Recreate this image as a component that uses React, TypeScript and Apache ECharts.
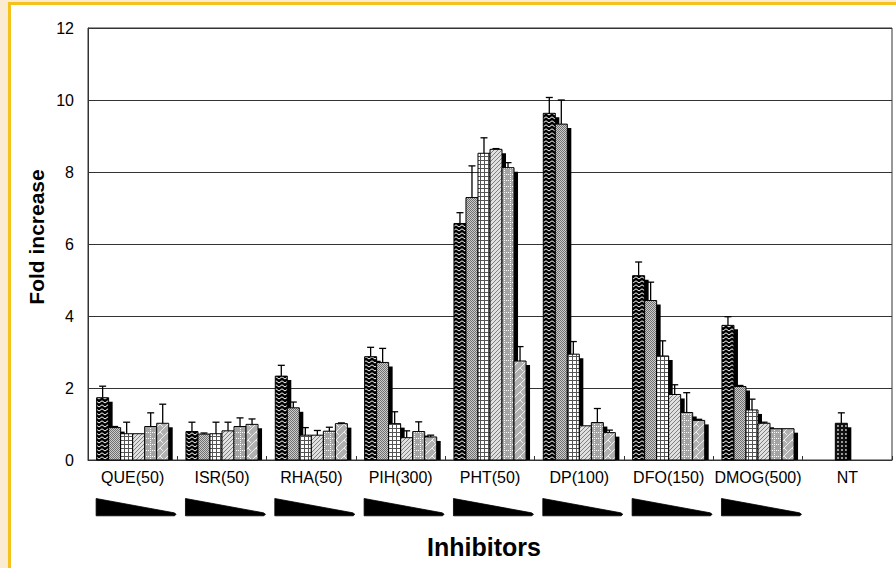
import React, { useEffect, useRef } from 'react';
import * as echarts from 'echarts';

const categories = ['QUE(50)', 'ISR(50)', 'RHA(50)', 'PIH(300)', 'PHT(50)', 'DP(100)', 'DFO(150)', 'DMOG(500)', 'NT'];
// six decreasing doses for the first eight inhibitors
const dose1 = [1.73, 0.79, 2.33, 2.87, 6.57, 9.63, 5.12, 3.74];
const dose1Err = [0.32, 0.26, 0.3, 0.26, 0.3, 0.44, 0.38, 0.24];
const dose2 = [0.9, 0.72, 1.45, 2.71, 7.29, 9.33, 4.43, 2.04];
const dose2Err = [0.03, 0.03, 0.16, 0.39, 0.88, 0.67, 0.51, 0.03];
const dose3 = [0.73, 0.73, 0.69, 1.01, 8.52, 2.94, 2.89, 1.39];
const dose3Err = [0.32, 0.32, 0.21, 0.33, 0.43, 0.35, 0.42, 0.3];
const dose4 = [0.73, 0.81, 0.69, 0.62, 8.63, 0.95, 1.82, 1.02];
const dose4Err = [0, 0.24, 0.13, 0.19, 0.02, 0, 0.27, 0.03];
const dose5 = [0.93, 0.93, 0.8, 0.79, 8.12, 1.04, 1.32, 0.87];
const dose5Err = [0.38, 0.24, 0.11, 0.27, 0.14, 0.39, 0.55, 0];
const dose6 = [1.02, 0.99, 1.01, 0.64, 2.75, 0.76, 1.1, 0.87];
const dose6Err = [0.53, 0.15, 0.02, 0.05, 0.4, 0.07, 0.03, 0];
const ntValue = [1.02];
const ntErr = [0.29];
const yTicks = [0, 2, 4, 6, 8, 10, 12];

const FONT = '"Liberation Sans", Arial, Helvetica, sans-serif';

function makePattern(kind: number) {
  const c = document.createElement('canvas');
  let w = 6, h = 6;
  if (kind === 0) { w = 6; h = 4; }
  if (kind === 1) { w = 2; h = 2; }
  if (kind === 2) { w = 4; h = 4; }
  if (kind === 3) { w = 4; h = 4; }
  if (kind === 4) { w = 6; h = 6; }
  if (kind === 5) { w = 8; h = 8; }
  if (kind === 6) { w = 4; h = 4; }
  c.width = w; c.height = h;
  const g = c.getContext('2d')!;
  if (kind === 0) {
    g.fillStyle = '#000'; g.fillRect(0, 0, w, h);
    g.strokeStyle = '#fff'; g.lineWidth = 1;
    g.beginPath(); g.moveTo(0, 0.8); g.lineTo(3, 3); g.lineTo(6, 0.8); g.stroke();
  } else if (kind === 1) {
    g.fillStyle = '#cccccc'; g.fillRect(0, 0, w, h);
    g.fillStyle = '#707070'; g.fillRect(0, 0, 1, 1); g.fillRect(1, 1, 1, 1);
  } else if (kind === 2) {
    g.fillStyle = '#fff'; g.fillRect(0, 0, w, h);
    g.fillStyle = '#555'; g.fillRect(0, 0, w, 1); g.fillRect(0, 0, 1, h);
  } else if (kind === 3) {
    g.fillStyle = '#e0e0e0'; g.fillRect(0, 0, w, h);
    g.fillStyle = '#808080';
    for (let i = 0; i < 4; i++) g.fillRect(3 - i, i, 1, 1);
  } else if (kind === 4) {
    g.fillStyle = '#a4a4a4'; g.fillRect(0, 0, w, h);
    g.fillStyle = '#fff';
    for (let i = 0; i < 6; i += 2) { g.fillRect(i, 0, 1, 1); g.fillRect(0, i, 1, 1); }
  } else if (kind === 5) {
    g.fillStyle = '#b0b0b0'; g.fillRect(0, 0, w, h);
    g.strokeStyle = '#f2f2f2'; g.lineWidth = 1;
    g.beginPath(); g.moveTo(0, 8); g.lineTo(8, 0); g.stroke();
    g.beginPath(); g.moveTo(0, 0); g.lineTo(3, 3); g.stroke();
  } else if (kind === 6) {
    g.fillStyle = '#111'; g.fillRect(0, 0, w, h);
    g.fillStyle = '#9a9a9a'; g.fillRect(1, 1, 2, 2);
  }
  return { image: c.toDataURL(), repeat: 'repeat', imageWidth: w, imageHeight: h };
}

export default function App() {
  const ref = useRef<HTMLDivElement>(null);
  useEffect(() => {
    if (!ref.current) return;
    const chart = echarts.init(ref.current, undefined, { renderer: 'svg' });
    const patterns = [0, 1, 2, 3, 4, 5, 6].map(makePattern);
    const doses = [dose1, dose2, dose3, dose4, dose5, dose6];
    const errs = [dose1Err, dose2Err, dose3Err, dose4Err, dose5Err, dose6Err];
    const barData: number[][] = [];
    for (let c = 0; c < 8; c++) {
      for (let s = 0; s < 6; s++) {
        barData.push([c, doses[s][c], errs[s][c], s, s]);
      }
    }
    barData.push([8, ntValue[0], ntErr[0], 2, 6]);
    const wedgeData = categories.slice(0, 8).map((_, i) => [i, 0]);

    const option: any = {
      animation: false,
      grid: { left: 88, right: 4, top: 28, bottom: 108, show: true, borderColor: '#333', borderWidth: 1, backgroundColor: 'transparent' },
      xAxis: {
        type: 'category',
        data: categories,
        axisLine: { lineStyle: { color: '#333', width: 1 } },
        axisTick: { show: true, inside: true, length: 4, lineStyle: { color: '#333' } },
        axisLabel: { fontSize: 16, color: '#000', fontFamily: FONT, margin: 9, interval: 0 },
        splitLine: { show: false },
      },
      yAxis: {
        type: 'value',
        min: yTicks[0],
        max: yTicks[yTicks.length - 1],
        interval: 2,
        axisLine: { show: true, lineStyle: { color: '#333', width: 1 } },
        axisTick: { show: false },
        axisLabel: { fontSize: 16, color: '#000', fontFamily: FONT, margin: 14 },
        splitLine: { show: true, lineStyle: { color: '#333', width: 1 } },
      },
      graphic: [
        {
          type: 'text', x: 36, y: 237, rotation: Math.PI / 2,
          style: { text: 'Fold increase', font: `bold 21px ${FONT}`, fill: '#000', textAlign: 'center', textVerticalAlign: 'middle' },
        },
        {
          type: 'text', x: 484, y: 547,
          style: { text: 'Inhibitors', font: `bold 25px ${FONT}`, fill: '#000', textAlign: 'center', textVerticalAlign: 'middle' },
        },
      ],
      series: [
        {
          type: 'custom',
          clip: false,
          data: barData,
          encode: { x: 0, y: 1 },
          renderItem: (params: any, api: any) => {
            const cat = api.value(0);
            const val = api.value(1);
            const err = api.value(2);
            const slot = api.value(3);
            const pat = api.value(4);
            const band = api.size([1, 0])[0];
            const bw = band * 0.1345;
            const base = api.coord([cat, 0]);
            const x0 = base[0] - 3 * bw + slot * bw;
            const yBase = base[1];
            const yTop = api.coord([cat, val])[1];
            const children: any[] = [
              { type: 'rect', shape: { x: x0 + 4, y: yTop + 4, width: bw, height: Math.max(0, yBase - yTop - 4) }, style: { fill: '#000' } },
              { type: 'rect', shape: { x: x0, y: yTop, width: bw, height: yBase - yTop }, style: { fill: patterns[pat], stroke: '#000', lineWidth: 1 } },
            ];
            if (err > 0) {
              const yErr = api.coord([cat, val + err])[1];
              const cx = x0 + bw / 2;
              children.push({ type: 'line', shape: { x1: cx, y1: yTop, x2: cx, y2: yErr }, style: { stroke: '#000', lineWidth: 1.3 } });
              children.push({ type: 'line', shape: { x1: cx - 3.5, y1: yErr, x2: cx + 3.5, y2: yErr }, style: { stroke: '#000', lineWidth: 1.3 } });
            }
            return { type: 'group', children };
          },
        },
        {
          type: 'custom',
          clip: false,
          data: wedgeData,
          encode: { x: 0, y: 1 },
          renderItem: (params: any, api: any) => {
            const cat = api.value(0);
            const band = api.size([1, 0])[0];
            const bw = band * 0.1345;
            const base = api.coord([cat, 0]);
            const x0 = base[0] - 3 * bw - 0.5;
            const b = base[1];
            return {
              type: 'polygon',
              shape: { points: [[x0, b + 38.5], [x0 + 78, b + 52.8], [x0 + 80, b + 54.2], [x0 + 78.5, b + 55.8], [x0, b + 55.8]] },
              style: { fill: '#000', stroke: '#000', lineWidth: 0.8, lineJoin: 'round' },
            };
          },
        },
      ],
    };
    chart.setOption(option);
    return () => chart.dispose();
  }, []);

  return (
    <div style={{ position: 'fixed', left: 0, top: 0, width: 896, height: 568, background: '#FBEBD0', overflow: 'hidden' }}>
      <div style={{ position: 'absolute', left: 8, top: 2, width: 888, height: 566, boxSizing: 'border-box', borderLeft: '3px solid #F5C21B', borderTop: '3px solid #F5C21B', background: '#fff' }} />
      <div ref={ref} style={{ position: 'absolute', left: 0, top: 0, width: 896, height: 568 }} />
    </div>
  );
}
